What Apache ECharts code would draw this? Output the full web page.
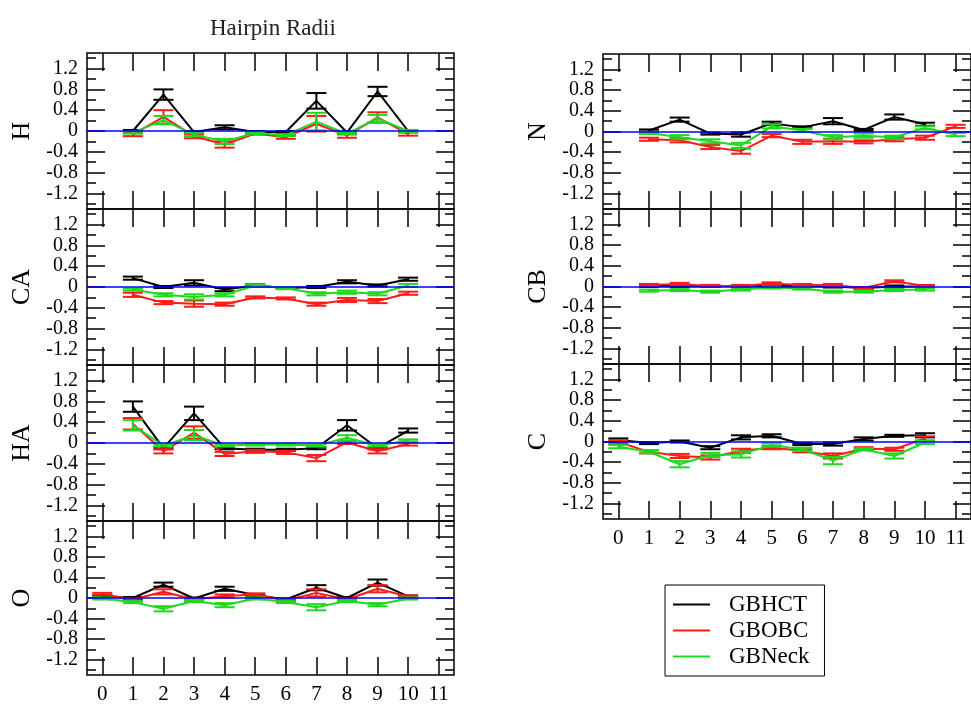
<!DOCTYPE html>
<html>
<head>
<meta charset="utf-8">
<title>Hairpin Radii</title>
<script src="https://cdn.jsdelivr.net/npm/echarts@6/dist/echarts.min.js"></script>
<style>
  html, body { margin: 0; padding: 0; background: #fff; }
  #chart { width: 971px; height: 705px; }
</style>
</head>
<body>
<div id="chart"></div>
<script>
/* ── Data ────────────────────────────────────────────────────────── */
const MODELS = ['GBHCT', 'GBOBC', 'GBNeck'];
const X_TICKS = [0, 1, 2, 3, 4, 5, 6, 7, 8, 9, 10, 11];
const Y_MAJOR = [-1.2, -0.8, -0.4, 0, 0.4, 0.8, 1.2];
const Y_MINOR = [-1.4, -1.0, -0.6, -0.2, 0.2, 0.6, 1.0, 1.4];

// H
const H_X = [1, 2, 3, 4, 5, 6, 7, 8, 9, 10];
const H_HCT = [0.0, 0.7, -0.02, 0.07, -0.02, -0.02, 0.58, -0.03, 0.76, 0.0];
const H_HCT_ERR = [0.02, 0.1, 0.02, 0.04, 0.02, 0.02, 0.15, 0.02, 0.09, 0.02];
const H_OBC = [-0.07, 0.27, -0.1, -0.26, -0.05, -0.12, 0.14, -0.09, 0.26, -0.06];
const H_OBC_ERR = [0.03, 0.13, 0.04, 0.06, 0.02, 0.03, 0.15, 0.04, 0.1, 0.03];
const H_NECK = [-0.03, 0.21, -0.07, -0.2, -0.04, -0.08, 0.18, -0.05, 0.24, 0.0];
const H_NECK_ERR = [0.02, 0.08, 0.03, 0.05, 0.02, 0.02, 0.17, 0.02, 0.07, 0.02];

// CA
const CA_X = [1, 2, 3, 4, 5, 6, 7, 8, 9, 10];
const CA_HCT = [0.17, 0.0, 0.08, -0.05, 0.03, -0.02, 0.0, 0.1, 0.03, 0.15];
const CA_HCT_ERR = [0.03, 0.02, 0.05, 0.03, 0.02, 0.02, 0.02, 0.03, 0.02, 0.03];
const CA_OBC = [-0.15, -0.3, -0.32, -0.33, -0.2, -0.22, -0.33, -0.25, -0.27, -0.12];
const CA_OBC_ERR = [0.04, 0.03, 0.06, 0.03, 0.02, 0.02, 0.03, 0.04, 0.04, 0.03];
const CA_NECK = [-0.05, -0.15, -0.19, -0.15, 0.03, -0.02, -0.13, -0.1, -0.13, 0.03];
const CA_NECK_ERR = [0.02, 0.03, 0.05, 0.03, 0.02, 0.02, 0.03, 0.03, 0.03, 0.03];

// HA
const HA_X = [1, 2, 3, 4, 5, 6, 7, 8, 9, 10];
const HA_HCT = [0.7, -0.1, 0.57, -0.1, -0.13, -0.13, -0.1, 0.34, -0.1, 0.24];
const HA_HCT_ERR = [0.1, 0.02, 0.13, 0.02, 0.02, 0.02, 0.02, 0.1, 0.02, 0.04];
const HA_OBC = [0.37, -0.16, 0.2, -0.21, -0.16, -0.18, -0.29, 0.01, -0.16, -0.02];
const HA_OBC_ERR = [0.11, 0.04, 0.12, 0.04, 0.03, 0.03, 0.06, 0.03, 0.04, 0.03];
const HA_NECK = [0.34, -0.05, 0.15, -0.05, -0.03, -0.03, -0.05, 0.1, -0.05, 0.05];
const HA_NECK_ERR = [0.1, 0.02, 0.1, 0.02, 0.02, 0.02, 0.02, 0.05, 0.02, 0.02];

// O
const O_X = [0, 1, 2, 3, 4, 5, 6, 7, 8, 9, 10];
const O_HCT = [0.03, 0.0, 0.26, -0.01, 0.18, 0.06, -0.03, 0.2, 0.0, 0.3, 0.03];
const O_HCT_ERR = [0.02, 0.02, 0.04, 0.02, 0.04, 0.02, 0.02, 0.05, 0.02, 0.06, 0.02];
const O_OBC = [0.08, -0.03, 0.12, -0.03, 0.04, 0.07, -0.05, 0.1, -0.03, 0.18, 0.03];
const O_OBC_ERR = [0.02, 0.02, 0.05, 0.02, 0.03, 0.02, 0.02, 0.07, 0.02, 0.07, 0.02];
const O_NECK = [-0.01, -0.08, -0.21, -0.06, -0.14, -0.01, -0.08, -0.18, -0.06, -0.13, -0.01];
const O_NECK_ERR = [0.02, 0.02, 0.05, 0.02, 0.04, 0.02, 0.02, 0.06, 0.02, 0.03, 0.02];

// N
const N_X = [1, 2, 3, 4, 5, 6, 7, 8, 9, 10, 11];
const N_HCT = [0.02, 0.23, -0.04, -0.06, 0.16, 0.08, 0.2, 0.03, 0.28, 0.14];
const N_HCT_ERR = [0.02, 0.04, 0.02, 0.04, 0.03, 0.02, 0.06, 0.02, 0.05, 0.03];
const N_OBC = [-0.15, -0.17, -0.3, -0.38, -0.08, -0.2, -0.19, -0.2, -0.15, -0.12, 0.1];
const N_OBC_ERR = [0.03, 0.04, 0.04, 0.05, 0.03, 0.04, 0.05, 0.03, 0.04, 0.04, 0.03];
const N_NECK = [-0.03, -0.11, -0.19, -0.27, 0.1, 0.02, -0.11, -0.08, -0.11, 0.07, -0.06];
const N_NECK_ERR = [0.02, 0.04, 0.04, 0.05, 0.04, 0.03, 0.04, 0.04, 0.03, 0.03, 0.03];

// CB
const CB_X = [1, 2, 3, 4, 5, 6, 7, 8, 9, 10];
const CB_HCT = [0.01, 0.01, 0.01, 0.01, 0.02, 0.01, 0.0, -0.03, 0.0, 0.0];
const CB_HCT_ERR = [0.02, 0.02, 0.02, 0.02, 0.02, 0.02, 0.02, 0.02, 0.02, 0.02];
const CB_OBC = [0.03, 0.05, 0.01, 0.01, 0.06, 0.03, 0.03, -0.03, 0.1, 0.01];
const CB_OBC_ERR = [0.02, 0.02, 0.02, 0.02, 0.02, 0.02, 0.02, 0.02, 0.02, 0.02];
const CB_NECK = [-0.08, -0.07, -0.1, -0.06, -0.02, -0.04, -0.1, -0.1, -0.07, -0.06];
const CB_NECK_ERR = [0.02, 0.02, 0.02, 0.02, 0.02, 0.02, 0.02, 0.02, 0.02, 0.02];

// C
const C_X = [0, 1, 2, 3, 4, 5, 6, 7, 8, 9, 10];
const C_HCT = [0.03, -0.03, 0.0, -0.12, 0.08, 0.11, -0.05, -0.05, 0.05, 0.11, 0.12];
const C_HCT_ERR = [0.03, 0.02, 0.02, 0.03, 0.04, 0.03, 0.02, 0.03, 0.03, 0.02, 0.04];
const C_OBC = [-0.01, -0.2, -0.28, -0.31, -0.18, -0.12, -0.18, -0.28, -0.14, -0.15, 0.06];
const C_OBC_ERR = [0.04, 0.03, 0.04, 0.04, 0.04, 0.03, 0.03, 0.05, 0.03, 0.03, 0.04];
const C_NECK = [-0.1, -0.2, -0.44, -0.26, -0.25, -0.07, -0.15, -0.37, -0.15, -0.28, -0.02];
const C_NECK_ERR = [0.03, 0.03, 0.06, 0.04, 0.06, 0.03, 0.03, 0.07, 0.02, 0.05, 0.03];

/* ── Layout ──────────────────────────────────────────────────────── */
const FONT = '"Liberation Serif", "DejaVu Serif", serif';
const COLORS = { GBHCT: '#000000', GBOBC: '#ff1a1a', GBNeck: '#1fd81f' };

// [label, x, hct, hctErr, obc, obcErr, neck, neckErr, box, showXLabels]
const PANELS = [
    ['H',  H_X,  H_HCT,  H_HCT_ERR,  H_OBC,  H_OBC_ERR,  H_NECK,  H_NECK_ERR,  { left: 87,  top: 53,  width: 367, height: 156 }, false],
    ['CA', CA_X, CA_HCT, CA_HCT_ERR, CA_OBC, CA_OBC_ERR, CA_NECK, CA_NECK_ERR, { left: 87,  top: 209, width: 367, height: 156 }, false],
    ['HA', HA_X, HA_HCT, HA_HCT_ERR, HA_OBC, HA_OBC_ERR, HA_NECK, HA_NECK_ERR, { left: 87,  top: 365, width: 367, height: 156 }, false],
    ['O',  O_X,  O_HCT,  O_HCT_ERR,  O_OBC,  O_OBC_ERR,  O_NECK,  O_NECK_ERR,  { left: 87,  top: 521, width: 367, height: 156 }, true],
    ['N',  N_X,  N_HCT,  N_HCT_ERR,  N_OBC,  N_OBC_ERR,  N_NECK,  N_NECK_ERR,  { left: 603, top: 54,  width: 368, height: 155 }, false],
    ['CB', CB_X, CB_HCT, CB_HCT_ERR, CB_OBC, CB_OBC_ERR, CB_NECK, CB_NECK_ERR, { left: 603, top: 209, width: 368, height: 155 }, false],
    ['C',  C_X,  C_HCT,  C_HCT_ERR,  C_OBC,  C_OBC_ERR,  C_NECK,  C_NECK_ERR,  { left: 603, top: 364, width: 368, height: 155 }, true]
];

/* ── Helpers ─────────────────────────────────────────────────────── */
function errorBarItem(color) {
    return function (params, api) {
        const x = api.value(0), y = api.value(1), e = api.value(2);
        const hi = api.coord([x, y + e]);
        const lo = api.coord([x, y - e]);
        const w = 10;
        const style = { stroke: color, lineWidth: 2 };
        return {
            type: 'group',
            children: [
                { type: 'line', shape: { x1: hi[0], y1: hi[1], x2: lo[0], y2: lo[1] }, style },
                { type: 'line', shape: { x1: hi[0] - w, y1: hi[1], x2: hi[0] + w, y2: hi[1] }, style },
                { type: 'line', shape: { x1: lo[0] - w, y1: lo[1], x2: lo[0] + w, y2: lo[1] }, style }
            ]
        };
    };
}

function yAxisDef(gi, pos, ticks, len, label) {
    return {
        type: 'value', gridIndex: gi, position: pos,
        min: -1.5, max: 1.5,
        axisLine: { show: false, onZero: false },
        splitLine: { show: false },
        axisTick: { show: true, inside: true, length: len, customValues: ticks,
                    lineStyle: { color: '#000', width: 1.5 } },
        axisLabel: label ? {
            show: true, customValues: Y_MAJOR, margin: 9, color: '#000',
            fontFamily: FONT, fontSize: 20,
            formatter: v => String(Math.round(v * 10) / 10)
        } : { show: false },
        name: label || '',
        nameLocation: 'middle', nameRotate: 90, nameGap: 52,
        nameTextStyle: { fontFamily: FONT, fontSize: 26, color: '#000' }
    };
}

function xAxisDef(gi, pos, labels) {
    return {
        type: 'value', gridIndex: gi, position: pos,
        min: -0.5, max: 11.5,
        axisLine: { show: false, onZero: false },
        splitLine: { show: false },
        axisTick: { show: true, inside: true, length: 18, customValues: X_TICKS,
                    lineStyle: { color: '#000', width: 1.5 } },
        axisLabel: labels ? {
            show: true, customValues: X_TICKS, margin: 9, color: '#000',
            fontFamily: FONT, fontSize: 21
        } : { show: false }
    };
}

/* ── Build option ────────────────────────────────────────────────── */
const grids = [], xAxes = [], yAxes = [], series = [];

PANELS.forEach((p, gi) => {
    const [label, xs, hct, hctErr, obc, obcErr, neck, neckErr, box, showX] = p;
    grids.push(Object.assign({ show: true, borderColor: '#000', borderWidth: 1.5 }, box));

    xAxes.push(xAxisDef(gi, 'bottom', showX));
    xAxes.push(xAxisDef(gi, 'top', false));

    yAxes.push(yAxisDef(gi, 'left', Y_MAJOR, 18, label));
    yAxes.push(yAxisDef(gi, 'left', Y_MINOR, 9, null));
    yAxes.push(yAxisDef(gi, 'right', Y_MAJOR, 18, null));
    yAxes.push(yAxisDef(gi, 'right', Y_MINOR, 9, null));

    const xi = gi * 2, yi = gi * 4;
    const sets = [[hct, hctErr], [obc, obcErr], [neck, neckErr]];
    sets.forEach(([vals, errs], k) => {
        const name = MODELS[k];
        const color = COLORS[name];
        series.push({
            type: 'line', name, xAxisIndex: xi, yAxisIndex: yi,
            data: vals.map((v, i) => [xs[i], v]),
            symbol: 'none', silent: true, z: 2 + k,
            lineStyle: { color, width: 2 },
            itemStyle: { color }
        });
        series.push({
            type: 'custom', name, xAxisIndex: xi, yAxisIndex: yi,
            data: vals.map((v, i) => [xs[i], v, errs[i]]),
            renderItem: errorBarItem(color),
            encode: { x: 0, y: 1 },
            silent: true, z: 2 + k
        });
    });

    // blue zero line
    series.push({
        type: 'line', name: 'zero', xAxisIndex: xi, yAxisIndex: yi,
        data: [], silent: true, z: 6,
        markLine: {
            silent: true, symbol: 'none', label: { show: false },
            lineStyle: { color: '#0000ff', width: 1.5, type: 'solid' },
            data: [{ yAxis: 0 }]
        }
    });
});

const option = {
    backgroundColor: '#fff',
    animation: false,
    title: {
        text: 'Hairpin Radii', left: 205, top: 12,
        textStyle: { fontFamily: FONT, fontSize: 23, fontWeight: 'normal', color: '#222' }
    },
    legend: {
        orient: 'vertical', left: 665, top: 585,
        data: MODELS.map(n => ({ name: n, itemStyle: { color: COLORS[n] } })),
        icon: 'rect', itemWidth: 37, itemHeight: 2, itemGap: 3,
        padding: [8, 15, 8, 8],
        borderColor: '#000', borderWidth: 1,
        selectedMode: false,
        textStyle: { fontFamily: FONT, fontSize: 23, color: '#000', lineHeight: 23, padding: [0, 0, 0, 14] }
    },
    grid: grids,
    xAxis: xAxes,
    yAxis: yAxes,
    series
};

const chart = echarts.init(document.getElementById('chart'));
chart.setOption(option);
</script>
</body>
</html>
